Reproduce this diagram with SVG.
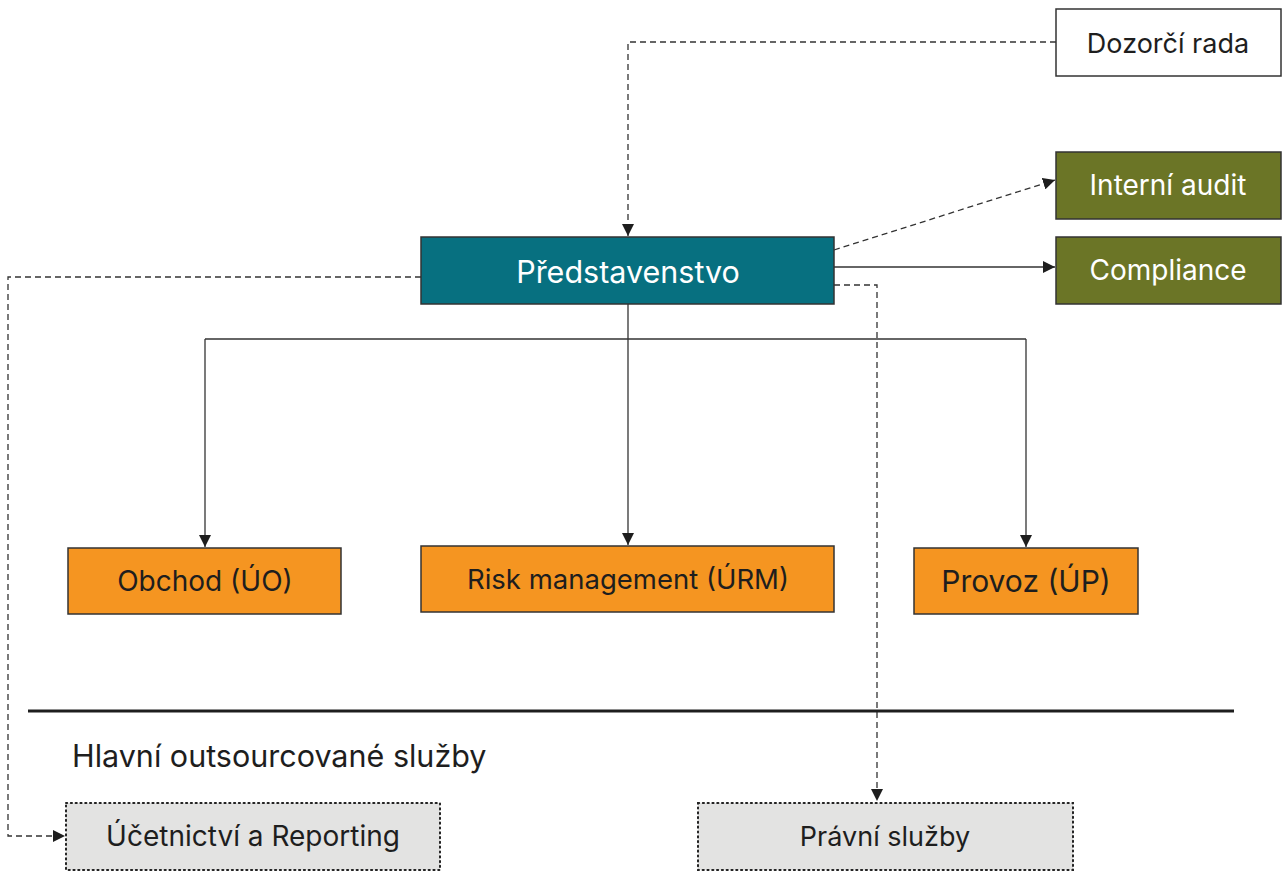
<svg xmlns="http://www.w3.org/2000/svg" width="1282" height="873" viewBox="0 0 1282 873">
<defs>
<style>
.box{stroke:#333;stroke-width:1.5}
.t{font-family:Inter,"Noto Sans","Liberation Sans",sans-serif;text-anchor:middle;dominant-baseline:central;fill:#1e1e1e}
.w{fill:#fff}
.c{fill:none;stroke:#333;stroke-width:1.3}
.d{stroke-dasharray:6,4}
.dot{fill:#e3e3e2;stroke:#222;stroke-width:2;stroke-dasharray:1.2,3.6;stroke-linecap:round}
</style>
<marker id="ab" viewBox="0 0 12 12" refX="12" refY="6" markerWidth="12" markerHeight="12" markerUnits="userSpaceOnUse" orient="auto"><path d="M0,0L12,6L0,12z" fill="#1e1e1e"/></marker>
</defs>
<rect width="1282" height="873" fill="#fff"/>
<g id="connectors">
<path class="c d" d="M1056,42H628V236" marker-end="url(#ab)"/>
<path class="c d" d="M834,250L1055,180" marker-end="url(#ab)"/>
<path class="c" d="M834,267H1055" marker-end="url(#ab)"/>
<path class="c d" d="M834,285H877V801" marker-end="url(#ab)"/>
<path class="c d" d="M421,277H8V836H65" marker-end="url(#ab)"/>
<path class="c" d="M628,304V545" marker-end="url(#ab)"/>
<path class="c" d="M205,339H1026"/>
<path class="c" d="M205,339V547" marker-end="url(#ab)"/>
<path class="c" d="M1026,339V547" marker-end="url(#ab)"/>
</g>
<g id="dozorci"><rect class="box" x="1056" y="9" width="225" height="67" fill="#fff"/><text class="t" x="1168" y="43" font-size="27">Dozorčí rada</text></g>
<g id="audit"><rect class="box" x="1056" y="152" width="225" height="67" fill="#6b7526"/><text class="t w" x="1168" y="185" font-size="28">Interní audit</text></g>
<g id="compliance"><rect class="box" x="1056" y="237" width="225" height="67" fill="#6b7526"/><text class="t w" x="1168" y="270" font-size="28">Compliance</text></g>
<g id="predstavenstvo"><rect class="box" x="421" y="237" width="413" height="67" fill="#077080"/><text class="t w" x="628" y="271" font-size="30.5">Představenstvo</text></g>
<g id="obchod"><rect class="box" x="68" y="548" width="273" height="66" fill="#f59521"/><text class="t" x="205" y="581" font-size="28">Obchod (ÚO)</text></g>
<g id="urm"><rect class="box" x="421" y="546" width="413" height="66" fill="#f59521"/><text class="t" x="628" y="579" font-size="27.5">Risk management (ÚRM)</text></g>
<g id="provoz"><rect class="box" x="914" y="548" width="224" height="66" fill="#f59521"/><text class="t" x="1026" y="581" font-size="30">Provoz (ÚP)</text></g>
<line x1="28" y1="711" x2="1234" y2="711" stroke="#1e1e1e" stroke-width="3"/>
<text x="72" y="767" font-family="Inter,'Noto Sans','Liberation Sans',sans-serif" font-size="30.5" fill="#1e1e1e">Hlavní outsourcované služby</text>
<g id="ucetnictvi"><rect class="dot" x="66" y="803" width="374" height="67"/><text class="t" x="253" y="836" font-size="28">Účetnictví a Reporting</text></g>
<g id="pravni"><rect class="dot" x="698" y="803" width="375" height="67"/><text class="t" x="885" y="836" font-size="27">Právní služby</text></g>
</svg>
